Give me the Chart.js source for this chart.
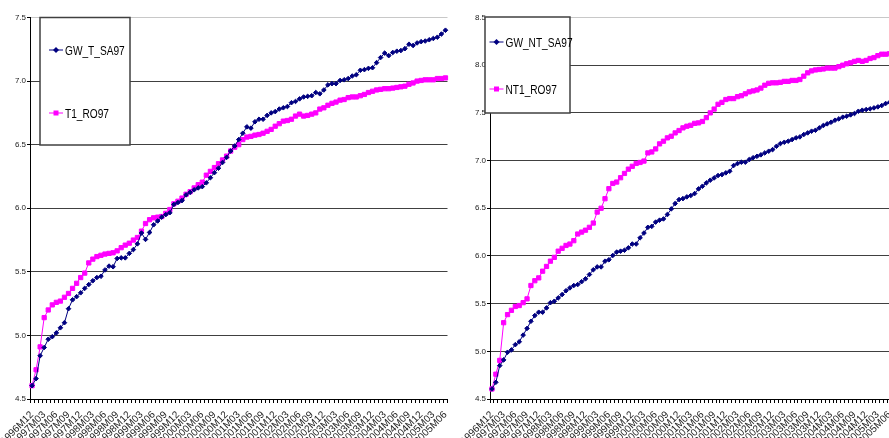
<!DOCTYPE html>
<html>
<head>
<meta charset="utf-8">
<script src="https://cdn.jsdelivr.net/npm/chart.js@4.4.1/dist/chart.umd.min.js"></script>
<style>
html, body { margin: 0; padding: 0; background: #fff; overflow: hidden; width: 889px; height: 438px; }
#left { position: absolute; left: 0; top: 0; }
#right { position: absolute; left: 460px; top: 0; }
</style>
</head>
<body>
<canvas id="left" width="456" height="438"></canvas>
<canvas id="right" width="440" height="438"></canvas>
<script>
// monthly categories, 1996M12 .. 2005M06 (a label is shown every 3 months)
var months = [
  '1996M12',
  '1997M01','1997M02','1997M03','1997M04','1997M05','1997M06','1997M07','1997M08','1997M09','1997M10','1997M11','1997M12',
  '1998M01','1998M02','1998M03','1998M04','1998M05','1998M06','1998M07','1998M08','1998M09','1998M10','1998M11','1998M12',
  '1999M01','1999M02','1999M03','1999M04','1999M05','1999M06','1999M07','1999M08','1999M09','1999M10','1999M11','1999M12',
  '2000M01','2000M02','2000M03','2000M04','2000M05','2000M06','2000M07','2000M08','2000M09','2000M10','2000M11','2000M12',
  '2001M01','2001M02','2001M03','2001M04','2001M05','2001M06','2001M07','2001M08','2001M09','2001M10','2001M11','2001M12',
  '2002M01','2002M02','2002M03','2002M04','2002M05','2002M06','2002M07','2002M08','2002M09','2002M10','2002M11','2002M12',
  '2003M01','2003M02','2003M03','2003M04','2003M05','2003M06','2003M07','2003M08','2003M09','2003M10','2003M11','2003M12',
  '2004M01','2004M02','2004M03','2004M04','2004M05','2004M06','2004M07','2004M08','2004M09','2004M10','2004M11','2004M12',
  '2005M01','2005M02','2005M03','2005M04','2005M05','2005M06'
];

// left panel
var gwTSA97 = [
  4.605, 4.66, 4.84, 4.905, 4.97, 4.99, 5.02, 5.06, 5.10, 5.21,
  5.28, 5.305, 5.335, 5.37, 5.40, 5.43, 5.455, 5.465, 5.515, 5.545,
  5.54, 5.605, 5.61, 5.61, 5.645, 5.675, 5.72, 5.805, 5.755, 5.81,
  5.87, 5.90, 5.93, 5.95, 5.965, 6.03, 6.045, 6.06, 6.105, 6.125,
  6.145, 6.16, 6.17, 6.20, 6.24, 6.28, 6.315, 6.36, 6.40, 6.45,
  6.49, 6.54, 6.59, 6.64, 6.63, 6.68, 6.70, 6.70, 6.73, 6.75,
  6.76, 6.78, 6.79, 6.80, 6.83, 6.84, 6.86, 6.875, 6.88, 6.885,
  6.91, 6.90, 6.93, 6.97, 6.98, 6.98, 7.005, 7.01, 7.02, 7.04,
  7.05, 7.085, 7.09, 7.10, 7.105, 7.145, 7.185, 7.22, 7.20, 7.225,
  7.235, 7.24, 7.255, 7.29, 7.28, 7.30, 7.31, 7.315, 7.325, 7.335,
  7.345, 7.37, 7.40
];
var t1RO97 = [
  4.605, 4.73, 4.91, 5.14, 5.20, 5.24, 5.26, 5.27, 5.30, 5.33,
  5.37, 5.41, 5.455, 5.49, 5.57, 5.60, 5.62, 5.63, 5.64, 5.645,
  5.65, 5.665, 5.69, 5.71, 5.725, 5.75, 5.77, 5.82, 5.88, 5.91,
  5.925, 5.93, 5.935, 5.96, 5.99, 6.035, 6.055, 6.08, 6.11, 6.13,
  6.16, 6.185, 6.205, 6.26, 6.29, 6.32, 6.35, 6.38, 6.41, 6.45,
  6.48, 6.50, 6.54, 6.56, 6.565, 6.575, 6.58, 6.59, 6.605, 6.62,
  6.645, 6.665, 6.685, 6.69, 6.70, 6.725, 6.74, 6.725, 6.73, 6.74,
  6.75, 6.78, 6.79, 6.81, 6.825, 6.835, 6.85, 6.855, 6.87, 6.875,
  6.875, 6.885, 6.895, 6.91, 6.92, 6.93, 6.935, 6.94, 6.94, 6.945,
  6.95, 6.955, 6.96, 6.975, 6.985, 7.00, 7.005, 7.01, 7.01, 7.01,
  7.02, 7.02, 7.025
];

// right panel
var gwNTSA97 = [
  4.605, 4.675, 4.85, 4.91, 4.99, 5.015, 5.07, 5.10, 5.17, 5.24,
  5.315, 5.375, 5.41, 5.41, 5.455, 5.51, 5.525, 5.56, 5.595, 5.635,
  5.665, 5.69, 5.70, 5.73, 5.76, 5.805, 5.855, 5.885, 5.885, 5.945,
  5.96, 6.005, 6.04, 6.05, 6.06, 6.085, 6.125, 6.125, 6.19, 6.24,
  6.30, 6.31, 6.355, 6.375, 6.388, 6.434, 6.493, 6.549, 6.591, 6.601,
  6.619, 6.633, 6.654, 6.703, 6.731, 6.766, 6.794, 6.818, 6.843, 6.853,
  6.871, 6.888, 6.948, 6.969, 6.983, 6.983, 7.01, 7.03, 7.045, 7.06,
  7.08, 7.098, 7.115, 7.15, 7.178, 7.192, 7.203, 7.22, 7.238, 7.248,
  7.273, 7.29, 7.308, 7.318, 7.343, 7.367, 7.385, 7.402, 7.423, 7.437,
  7.455, 7.465, 7.479, 7.493, 7.517, 7.528, 7.535, 7.542, 7.552, 7.563,
  7.577, 7.598, 7.61
];
var nt1RO97 = [
  4.605, 4.76, 4.905, 5.30, 5.385, 5.43, 5.47, 5.48, 5.51, 5.55,
  5.69, 5.74, 5.77, 5.84, 5.89, 5.945, 5.985, 6.05, 6.08, 6.11,
  6.125, 6.16, 6.23, 6.25, 6.27, 6.30, 6.345, 6.46, 6.50, 6.60,
  6.705, 6.76, 6.775, 6.82, 6.865, 6.91, 6.94, 6.97, 6.98, 6.995,
  7.08, 7.09, 7.122, 7.175, 7.203, 7.238, 7.255, 7.29, 7.315, 7.343,
  7.36, 7.37, 7.39, 7.395, 7.41, 7.45, 7.50, 7.54, 7.59, 7.61,
  7.64, 7.65, 7.65, 7.67, 7.68, 7.70, 7.72, 7.73, 7.74, 7.76,
  7.79, 7.81, 7.815, 7.815, 7.82, 7.83, 7.83, 7.84, 7.84, 7.85,
  7.885, 7.92, 7.94, 7.95, 7.955, 7.96, 7.97, 7.97, 7.97, 7.985,
  8.00, 8.015, 8.025, 8.04, 8.05, 8.04, 8.05, 8.07, 8.08, 8.10,
  8.115, 8.115, 8.12
];

var FONT = '"Liberation Sans", Arial, sans-serif';
var NAVY = '#000080';
var MAGENTA = '#FF00FF';

// boxed legend sitting inside the plot, Excel style
var boxLegend = {
  id: 'boxLegend',
  afterDraw: function (chart, args, opts) {
    var ctx = chart.ctx;
    ctx.save();
    ctx.fillStyle = '#fff';
    ctx.fillRect(opts.x, opts.y, opts.w, opts.h);
    ctx.strokeStyle = '#404040';
    ctx.lineWidth = 1.5;
    ctx.strokeRect(opts.x, opts.y, opts.w, opts.h);
    chart.data.datasets.forEach(function (ds, i) {
      var y = opts.rows[i];
      var mx = opts.x + opts.marker;
      ctx.strokeStyle = ds.borderColor;
      ctx.fillStyle = ds.borderColor;
      ctx.lineWidth = 1;
      ctx.beginPath();
      ctx.moveTo(mx - 7, y);
      ctx.lineTo(mx + 7, y);
      ctx.stroke();
      ctx.beginPath();
      if (ds.pointStyle === 'rect') {
        ctx.rect(mx - 2.5, y - 2.5, 5, 5);
      } else {
        ctx.moveTo(mx, y - 3); ctx.lineTo(mx + 3, y); ctx.lineTo(mx, y + 3); ctx.lineTo(mx - 3, y);
        ctx.closePath();
      }
      ctx.fill();
      ctx.save();
      ctx.translate(opts.x + opts.text, y);
      ctx.scale(0.78, 1);
      ctx.fillStyle = '#000';
      ctx.font = '13px ' + FONT;
      ctx.textBaseline = 'middle';
      ctx.fillText(ds.label, 0, 1);
      ctx.restore();
    });
    ctx.restore();
  }
};

function panel(id, blue, pink, names, yMax, legend) {
  return new Chart(document.getElementById(id), {
    type: 'line',
    data: {
      labels: months,
      datasets: [{
        label: names[0],
        data: blue,
        borderColor: NAVY,
        backgroundColor: NAVY,
        borderWidth: 1,
        pointStyle: 'rectRot',
        pointRadius: 2.3,
        pointBorderWidth: 1,
        tension: 0
      },
      {
        label: names[1],
        data: pink,
        borderColor: MAGENTA,
        backgroundColor: MAGENTA,
        borderWidth: 1,
        pointStyle: 'rect',
        pointRadius: 3,
        pointBorderWidth: 1,
        tension: 0
      }]
    },
    options: {
      responsive: false,
      animation: false,
      layout: { padding: { left: 0, right: 8.5, top: 17.5, bottom: 0 } },
      plugins: {
        legend: { display: false },
        tooltip: { enabled: false },
        boxLegend: legend
      },
      scales: {
        x: {
          offset: true,
          grid: { display: true, drawOnChartArea: false, offset: true, tickLength: 4, color: '#000' },
          border: { color: '#000', width: 1 },
          ticks: {
            autoSkip: false,
            minRotation: 45,
            maxRotation: 45,
            padding: 6,
            color: '#222',
            font: { size: 10, family: FONT },
            callback: function (v, i) { return i % 3 === 0 ? this.getLabelForValue(v) : ''; }
          },
          // fixed axis box: labels may run off the canvas, as in the original
          afterFit: function (s) { s.height = 39; s.paddingLeft = 0; s.paddingRight = 0; }
        },
        y: {
          min: 4.5,
          max: yMax,
          ticks: {
            stepSize: 0.5,
            padding: 1,
            color: '#222',
            font: { size: 8, family: FONT },
            callback: function (v) { return v.toFixed(1); }
          },
          grid: {
            tickLength: 3,
            tickColor: '#000',
            color: function (c) { return c.tick && c.tick.value === yMax ? '#c8c8c8' : '#404040'; }
          },
          border: { color: '#000', width: 1 },
          afterFit: function (s) { s.width = 30; s.paddingTop = 0; s.paddingBottom = 0; }
        }
      }
    },
    plugins: [boxLegend]
  });
}

panel('left', gwTSA97, t1RO97, ['GW_T_SA97', 'T1_RO97'], 7.5,
  { x: 40, y: 17.5, w: 90, h: 127.5, rows: [50, 113], marker: 16, text: 25 });
panel('right', gwNTSA97, nt1RO97, ['GW_NT_SA97', 'NT1_RO97'], 8.5,
  { x: 25, y: 17, w: 85, h: 96, rows: [42, 89], marker: 11.5, text: 20.5 });
</script>
</body>
</html>
